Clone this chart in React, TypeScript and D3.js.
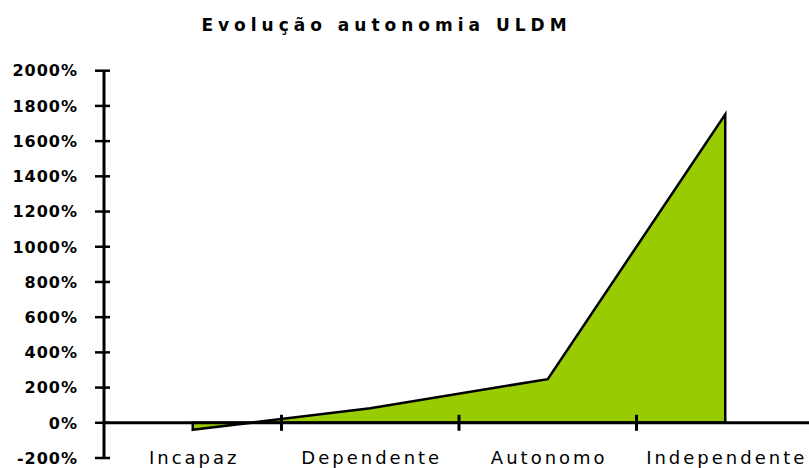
import * as d3 from "d3";

const categories = ["Incapaz", "Dependente", "Autonomo", "Independente"];
const values = [-40, 83, 248, 1752];
const yTicks = [-200, 0, 200, 400, 600, 800, 1000, 1200, 1400, 1600, 1800, 2000];
const title = "Evolução autonomia ULDM";

const W = 809;
const H = 468;

export default function App() {
  const x = d3.scaleBand().domain(categories).range([104, 814]);
  const y = d3.scaleLinear().domain([-200, 2000]).range([458, 70.7]);

  const area = d3
    .area<number>()
    .x((_, i) => (x(categories[i]) ?? 0) + x.bandwidth() / 2)
    .y0(y(0))
    .y1((d) => y(d));

  const bounds = categories.slice(1).map((c) => x(c) ?? 0);

  return (
    <svg
      width={W}
      height={H}
      style={{ position: "absolute", left: 0, top: 0, background: "#fff" }}
    >
      <text
        x={384 + 2.5}
        y={31}
        textAnchor="middle"
        fontFamily="DejaVu Sans"
        fontWeight="bold"
        fontSize={17}
        letterSpacing={5}
      >
        {title}
      </text>

      <path d={area(values) ?? ""} fill="#99CC00" stroke="#000" strokeWidth={2.5} strokeLinejoin="miter" />

      {/* y axis */}
      <line x1={104} x2={104} y1={y(2000)} y2={y(-200)} stroke="#000" strokeWidth={3} />
      {yTicks.map((t) => (
        <g key={t}>
          <line x1={95} x2={110} y1={y(t)} y2={y(t)} stroke="#000" strokeWidth={2.5} />
          <text
            x={77 + 1}
            y={y(t)}
            dy="0.36em"
            textAnchor="end"
            fontFamily="DejaVu Sans"
            fontWeight="bold"
            fontSize={16}
            letterSpacing={1}
          >
            {t + "%"}
          </text>
        </g>
      ))}

      {/* x axis */}
      <line x1={104} x2={814} y1={y(0)} y2={y(0)} stroke="#000" strokeWidth={3} />
      {bounds.map((b) => (
        <line key={b} x1={b} x2={b} y1={y(0) - 8} y2={y(0) + 8} stroke="#000" strokeWidth={3} />
      ))}
      {categories.map((c) => (
        <text
          key={c}
          x={(x(c) ?? 0) + x.bandwidth() / 2 + 1.5}
          y={463.5}
          textAnchor="middle"
          fontFamily="DejaVu Sans"
          fontSize={18}
          letterSpacing={3}
        >
          {c}
        </text>
      ))}
    </svg>
  );
}
